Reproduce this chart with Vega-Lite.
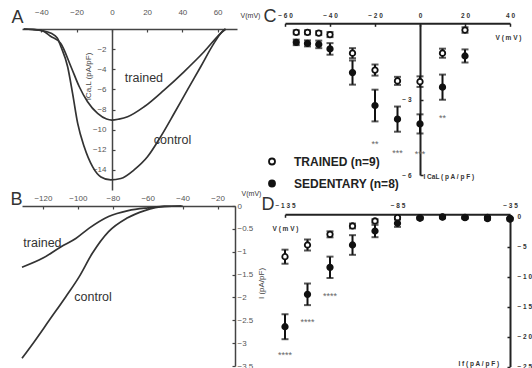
{
  "$schema": "https://vega.github.io/schema/vega-lite/v6.json",
  "width": 532,
  "height": 368,
  "autosize": {"type": "none"},
  "padding": 0,
  "background": "white",
  "datasets": {
    "curvesA": [
      {"g": "trained", "v": -50, "i": 0}, {"g": "trained", "v": -45, "i": -0.03}, {"g": "trained", "v": -40, "i": -0.15},
      {"g": "trained", "v": -38.3, "i": -0.27}, {"g": "trained", "v": -35, "i": -0.7}, {"g": "trained", "v": -29, "i": -1.43},
      {"g": "trained", "v": -23.2, "i": -3.75}, {"g": "trained", "v": -18.5, "i": -5.74}, {"g": "trained", "v": -13.8, "i": -7.23},
      {"g": "trained", "v": -8.1, "i": -8.39}, {"g": "trained", "v": -3, "i": -8.95}, {"g": "trained", "v": 0, "i": -9.05},
      {"g": "trained", "v": 4, "i": -8.95}, {"g": "trained", "v": 8.9, "i": -8.72}, {"g": "trained", "v": 18.3, "i": -7.73},
      {"g": "trained", "v": 29.6, "i": -6.07}, {"g": "trained", "v": 40.9, "i": -4.25}, {"g": "trained", "v": 52.3, "i": -2.26},
      {"g": "trained", "v": 61.7, "i": -0.43}, {"g": "trained", "v": 64.5, "i": 0},
      {"g": "control", "v": -50, "i": 0}, {"g": "control", "v": -45, "i": -0.05}, {"g": "control", "v": -40, "i": -0.15},
      {"g": "control", "v": -34.5, "i": -0.43}, {"g": "control", "v": -31, "i": -0.9}, {"g": "control", "v": -28.9, "i": -1.76},
      {"g": "control", "v": -25.1, "i": -3.75}, {"g": "control", "v": -22.3, "i": -6.4}, {"g": "control", "v": -19.4, "i": -9.38},
      {"g": "control", "v": -15.7, "i": -11.7}, {"g": "control", "v": -10.9, "i": -13.7}, {"g": "control", "v": -6.2, "i": -14.7},
      {"g": "control", "v": -0.6, "i": -15.0}, {"g": "control", "v": 5.1, "i": -14.86}, {"g": "control", "v": 12.6, "i": -14.0},
      {"g": "control", "v": 20.2, "i": -12.7}, {"g": "control", "v": 27.7, "i": -10.7}, {"g": "control", "v": 35.3, "i": -8.4},
      {"g": "control", "v": 42.8, "i": -6.07}, {"g": "control", "v": 50.4, "i": -3.75}, {"g": "control", "v": 57.9, "i": -1.43},
      {"g": "control", "v": 62.6, "i": -0.27}, {"g": "control", "v": 64.5, "i": 0}
    ],
    "labelsA": [
      {"label": "trained", "v": 18.2, "i": -4.87},
      {"label": "control", "v": 34.4, "i": -11.03}
    ],
    "letterA": [{"label": "A", "v": -53.5, "i": 1.09}],
    "curvesB": [
      {"g": "trained", "v": -132, "i": -1.34}, {"g": "trained", "v": -120, "i": -1.14}, {"g": "trained", "v": -109.6, "i": -0.89},
      {"g": "trained", "v": -101.2, "i": -0.71}, {"g": "trained", "v": -93.7, "i": -0.49}, {"g": "trained", "v": -82.4, "i": -0.23},
      {"g": "trained", "v": -71.2, "i": -0.1}, {"g": "trained", "v": -59.9, "i": -0.04}, {"g": "trained", "v": -50.5, "i": -0.01},
      {"g": "trained", "v": -40, "i": 0},
      {"g": "control", "v": -132, "i": -3.33}, {"g": "control", "v": -125.6, "i": -3.0}, {"g": "control", "v": -116.2, "i": -2.49},
      {"g": "control", "v": -106.8, "i": -1.98}, {"g": "control", "v": -99.3, "i": -1.55}, {"g": "control", "v": -91.8, "i": -1.04},
      {"g": "control", "v": -82.4, "i": -0.56}, {"g": "control", "v": -72.1, "i": -0.27}, {"g": "control", "v": -61.7, "i": -0.1},
      {"g": "control", "v": -50.5, "i": -0.01}, {"g": "control", "v": -40.9, "i": 0}
    ],
    "labelsB": [
      {"label": "trained", "v": -120.3, "i": -0.81},
      {"label": "control", "v": -91.3, "i": -1.99}
    ],
    "letterB": [{"label": "B", "v": -135.2, "i": 0.13}],
    "dataC": [
      {"group": "TRAINED (n=9)", "v": -55, "m": -0.33, "lo": -0.41, "hi": -0.25},
      {"group": "TRAINED (n=9)", "v": -50, "m": -0.33, "lo": -0.41, "hi": -0.25},
      {"group": "TRAINED (n=9)", "v": -45, "m": -0.36, "lo": -0.44, "hi": -0.28},
      {"group": "TRAINED (n=9)", "v": -40, "m": -0.42, "lo": -0.52, "hi": -0.32},
      {"group": "TRAINED (n=9)", "v": -30, "m": -1.16, "lo": -1.36, "hi": -0.96},
      {"group": "TRAINED (n=9)", "v": -20, "m": -1.83, "lo": -2.05, "hi": -1.61},
      {"group": "TRAINED (n=9)", "v": -10, "m": -2.26, "lo": -2.42, "hi": -2.1},
      {"group": "TRAINED (n=9)", "v": 0, "m": -2.29, "lo": -2.5, "hi": -2.08},
      {"group": "TRAINED (n=9)", "v": 10, "m": -1.16, "lo": -1.34, "hi": -0.98},
      {"group": "TRAINED (n=9)", "v": 20, "m": -0.24, "lo": -0.35, "hi": -0.13},
      {"group": "SEDENTARY (n=8)", "v": -55, "m": -0.73, "lo": -0.84, "hi": -0.62},
      {"group": "SEDENTARY (n=8)", "v": -50, "m": -0.77, "lo": -0.89, "hi": -0.65},
      {"group": "SEDENTARY (n=8)", "v": -45, "m": -0.81, "lo": -0.96, "hi": -0.66},
      {"group": "SEDENTARY (n=8)", "v": -40, "m": -0.99, "lo": -1.22, "hi": -0.76},
      {"group": "SEDENTARY (n=8)", "v": -30, "m": -1.93, "lo": -2.41, "hi": -1.45},
      {"group": "SEDENTARY (n=8)", "v": -20, "m": -3.24, "lo": -3.87, "hi": -2.61},
      {"group": "SEDENTARY (n=8)", "v": -10, "m": -3.78, "lo": -4.28, "hi": -3.28},
      {"group": "SEDENTARY (n=8)", "v": 0, "m": -3.97, "lo": -4.35, "hi": -3.59},
      {"group": "SEDENTARY (n=8)", "v": 10, "m": -2.51, "lo": -3.01, "hi": -2.01},
      {"group": "SEDENTARY (n=8)", "v": 20, "m": -1.27, "lo": -1.53, "hi": -1.01}
    ],
    "starsC": [
      {"v": -20, "m": -4.69, "label": "**"},
      {"v": -10, "m": -5.05, "label": "***"},
      {"v": 0, "m": -5.07, "label": "***"},
      {"v": 10, "m": -3.66, "label": "**"}
    ],
    "letterC": [{"label": "C", "v": -66.7, "m": 0.26}],
    "dataD": [
      {"group": "TRAINED (n=9)", "v": -135, "m": -6.7, "lo": -7.87, "hi": -5.53},
      {"group": "TRAINED (n=9)", "v": -125, "m": -4.75, "lo": -5.67, "hi": -3.83},
      {"group": "TRAINED (n=9)", "v": -115, "m": -2.97, "lo": -3.47, "hi": -2.47},
      {"group": "TRAINED (n=9)", "v": -105, "m": -1.58, "lo": -1.98, "hi": -1.18},
      {"group": "TRAINED (n=9)", "v": -95, "m": -0.75, "lo": -1.05, "hi": -0.45},
      {"group": "TRAINED (n=9)", "v": -85, "m": -0.2, "lo": -0.4, "hi": 0},
      {"group": "TRAINED (n=9)", "v": -75, "m": -0.2, "lo": -0.3, "hi": -0.1},
      {"group": "TRAINED (n=9)", "v": -65, "m": -0.05, "lo": -0.15, "hi": 0.05},
      {"group": "TRAINED (n=9)", "v": -55, "m": -0.15, "lo": -0.25, "hi": -0.05},
      {"group": "TRAINED (n=9)", "v": -45, "m": -0.15, "lo": -0.25, "hi": -0.05},
      {"group": "TRAINED (n=9)", "v": -35, "m": -0.3, "lo": -0.4, "hi": -0.2},
      {"group": "SEDENTARY (n=8)", "v": -135, "m": -18.37, "lo": -20.45, "hi": -16.29},
      {"group": "SEDENTARY (n=8)", "v": -125, "m": -12.97, "lo": -14.77, "hi": -11.17},
      {"group": "SEDENTARY (n=8)", "v": -115, "m": -8.47, "lo": -10.25, "hi": -6.69},
      {"group": "SEDENTARY (n=8)", "v": -105, "m": -4.75, "lo": -6.39, "hi": -3.11},
      {"group": "SEDENTARY (n=8)", "v": -95, "m": -2.42, "lo": -3.45, "hi": -1.39},
      {"group": "SEDENTARY (n=8)", "v": -85, "m": -1.13, "lo": -1.73, "hi": -0.53},
      {"group": "SEDENTARY (n=8)", "v": -75, "m": -0.3, "lo": -0.5, "hi": -0.1},
      {"group": "SEDENTARY (n=8)", "v": -65, "m": -0.1, "lo": -0.3, "hi": 0.1},
      {"group": "SEDENTARY (n=8)", "v": -55, "m": -0.2, "lo": -0.4, "hi": 0},
      {"group": "SEDENTARY (n=8)", "v": -45, "m": -0.35, "lo": -0.55, "hi": -0.15},
      {"group": "SEDENTARY (n=8)", "v": -35, "m": -0.45, "lo": -0.65, "hi": -0.25}
    ],
    "starsD": [
      {"v": -135, "m": -22.75, "label": "****"},
      {"v": -125, "m": -17.25, "label": "****"},
      {"v": -115, "m": -12.97, "label": "****"}
    ],
    "letterD": [{"label": "D", "v": -142.6, "m": 1.92}]
  },
  "resolve": {
    "scale": {"x": "independent", "y": "independent"},
    "axis": {"x": "independent", "y": "independent"}
  },
  "layer": [
    {
      "layer": [
        {
          "data": {"name": "curvesA"},
          "mark": {"type": "line", "color": "#333", "strokeWidth": 1.7, "interpolate": "monotone"},
          "encoding": {
            "x": {
              "field": "v", "type": "quantitative",
              "scale": {"domain": [-51, 71], "range": [22, 237], "nice": false, "zero": false},
              "axis": {
                "orient": "top", "offset": -29, "values": [-40, -20, 0, 20, 40, 60],
                "labelFontSize": 8, "labelColor": "#555", "labelPadding": 15.5, "labelFlush": false, "labelOverlap": false,
                "tickSize": -3, "tickColor": "#444", "tickWidth": 1.2, "domainColor": "#444", "domainWidth": 1.5,
                "title": "V(mV)", "titleX": 250, "titleY": -14, "titleAlign": "center", "titleBaseline": "middle",
                "titleFontSize": 7, "titleFontWeight": "normal", "titleColor": "#333"
              }
            },
            "y": {
              "field": "i", "type": "quantitative",
              "scale": {"domain": [-16, 0], "range": [190, 29], "nice": false, "zero": false},
              "axis": {
                "orient": "left", "offset": -112, "values": [-2, -4, -6, -8, -10, -12, -14], "format": "~g",
                "labelFontSize": 8, "labelColor": "#555", "labelPadding": 9, "labelOverlap": false, "labelFlush": false,
                "tickSize": -3, "tickColor": "#444", "tickWidth": 1.2, "domainColor": "#444", "domainWidth": 1.5,
                "title": "ICa,L (pA/pF)", "titleX": -24, "titleY": 76, "titleAngle": 270, "titleAlign": "center", "titleBaseline": "middle",
                "titleFontSize": 8, "titleFontWeight": "normal", "titleColor": "#444"
              }
            },
            "detail": {"field": "g", "type": "nominal"}
          }
        },
        {
          "data": {"name": "labelsA"},
          "mark": {"type": "text", "fontSize": 12.5, "color": "#333", "baseline": "middle", "align": "center"},
          "encoding": {
            "x": {"field": "v", "type": "quantitative"},
            "y": {"field": "i", "type": "quantitative"},
            "text": {"field": "label"}
          }
        },
        {
          "data": {"name": "letterA"},
          "mark": {"type": "text", "fontSize": 18, "color": "#333", "baseline": "middle", "align": "center"},
          "encoding": {
            "x": {"field": "v", "type": "quantitative"},
            "y": {"field": "i", "type": "quantitative"},
            "text": {"field": "label"}
          }
        }
      ]
    },
    {
      "layer": [
        {
          "data": {"name": "curvesB"},
          "mark": {"type": "line", "color": "#333", "strokeWidth": 1.7, "interpolate": "monotone"},
          "encoding": {
            "x": {
              "field": "v", "type": "quantitative",
              "scale": {"domain": [-132, -10], "range": [22, 235], "nice": false, "zero": false},
              "axis": {
                "orient": "top", "offset": -206, "values": [-120, -100, -80, -60, -40, -20],
                "labelFontSize": 8, "labelColor": "#555", "labelPadding": 6.5, "labelFlush": false, "labelOverlap": false,
                "tickSize": -3, "tickColor": "#444", "tickWidth": 1.2, "domainColor": "#444", "domainWidth": 1.5,
                "title": "V(mV)", "titleX": 251, "titleY": -13, "titleAlign": "center", "titleBaseline": "middle",
                "titleFontSize": 7, "titleFontWeight": "normal", "titleColor": "#333"
              }
            },
            "y": {
              "field": "i", "type": "quantitative",
              "scale": {"domain": [-3.5, 0], "range": [366, 206], "nice": false, "zero": false},
              "axis": {
                "orient": "right", "offset": -297, "values": [0, -0.5, -1, -1.5, -2, -2.5, -3, -3.5], "format": "~g",
                "labelFontSize": 8, "labelColor": "#555", "labelPadding": 5, "labelOverlap": false, "labelFlush": false,
                "tickSize": -3, "tickColor": "#444", "tickWidth": 1.2, "domainColor": "#444", "domainWidth": 1.5,
                "title": "I (pA/pF)", "titleX": 26, "titleY": 283, "titleAngle": 270, "titleAlign": "center", "titleBaseline": "middle",
                "titleFontSize": 8, "titleFontWeight": "normal", "titleColor": "#444"
              }
            },
            "detail": {"field": "g", "type": "nominal"}
          }
        },
        {
          "data": {"name": "labelsB"},
          "mark": {"type": "text", "fontSize": 12.5, "color": "#333", "baseline": "middle", "align": "center"},
          "encoding": {
            "x": {"field": "v", "type": "quantitative"},
            "y": {"field": "i", "type": "quantitative"},
            "text": {"field": "label"}
          }
        },
        {
          "data": {"name": "letterB"},
          "mark": {"type": "text", "fontSize": 18, "color": "#333", "baseline": "middle", "align": "center"},
          "encoding": {
            "x": {"field": "v", "type": "quantitative"},
            "y": {"field": "i", "type": "quantitative"},
            "text": {"field": "label"}
          }
        }
      ]
    },
    {
      "layer": [
        {
          "data": {"name": "dataC"},
          "mark": {"type": "errorbar", "orient": "vertical", "ticks": true, "size": 7, "thickness": 2, "color": "#111"},
          "encoding": {
            "x": {
              "field": "v", "type": "quantitative",
              "scale": {"domain": [-60, 40], "range": [285, 510], "nice": false, "zero": false},
              "axis": {
                "orient": "top", "offset": -23.3, "values": [-60, -40, -20, 0, 20, 40],
                "labelExpr": "join(split(datum.label, ''), ' ')",
                "labelFontSize": 6.5, "labelFontWeight": "bold", "labelColor": "#333", "labelPadding": 7.8, "labelFlush": false, "labelOverlap": false,
                "tickSize": -3, "tickColor": "#222", "tickWidth": 1.5, "domainColor": "#222", "domainWidth": 2,
                "title": "V ( m V )", "titleX": 508, "titleY": 14, "titleAlign": "center", "titleBaseline": "middle",
                "titleFontSize": 6.5, "titleFontWeight": "bold", "titleColor": "#333"
              }
            },
            "y": {
              "field": "lo", "type": "quantitative",
              "scale": {"domain": [-6, 0], "range": [175, 24], "nice": false, "zero": false},
              "axis": {
                "orient": "left", "offset": -420, "values": [-3, -6], "format": "~g",
                "labelExpr": "join(split(datum.label, ''), ' ')",
                "labelFontSize": 6.5, "labelFontWeight": "bold", "labelColor": "#333", "labelPadding": 12, "labelOverlap": false, "labelFlush": false,
                "tickSize": -3, "tickColor": "#222", "tickWidth": 1.5, "domainColor": "#222", "domainWidth": 2,
                "title": "I CaL ( p A / p F )", "titleX": 3, "titleY": 176, "titleAngle": 0, "titleAlign": "left", "titleBaseline": "middle",
                "titleFontSize": 6.5, "titleFontWeight": "bold", "titleColor": "#333"
              }
            },
            "y2": {"field": "hi"}
          }
        },
        {
          "data": {"name": "dataC"},
          "mark": {"type": "circle", "stroke": "#111", "strokeWidth": 1.8, "opacity": 1, "size": 30},
          "encoding": {
            "x": {"field": "v", "type": "quantitative"},
            "y": {"field": "m", "type": "quantitative"},
            "fill": {
              "field": "group", "type": "nominal",
              "scale": {"domain": ["TRAINED (n=9)", "SEDENTARY (n=8)"], "range": ["white", "#111"]},
              "legend": {
                "orient": "none", "legendX": 266, "legendY": 155.5, "title": null, "padding": 0,
                "labelFontSize": 12, "labelFontWeight": "bold", "labelColor": "#222", "labelFont": "Liberation Sans",
                "symbolType": "circle", "symbolSize": 36, "symbolStrokeColor": "#111", "symbolStrokeWidth": 1.8,
                "labelOffset": 16, "rowPadding": 8
              }
            }
          }
        },
        {
          "data": {"name": "starsC"},
          "mark": {"type": "text", "fontSize": 9, "color": "#666", "baseline": "middle", "align": "center", "dy": 2},
          "encoding": {
            "x": {"field": "v", "type": "quantitative"},
            "y": {"field": "m", "type": "quantitative"},
            "text": {"field": "label"}
          }
        },
        {
          "data": {"name": "letterC"},
          "mark": {"type": "text", "fontSize": 18, "color": "#333", "baseline": "middle", "align": "center"},
          "encoding": {
            "x": {"field": "v", "type": "quantitative"},
            "y": {"field": "m", "type": "quantitative"},
            "text": {"field": "label"}
          }
        }
      ]
    },
    {
      "layer": [
        {
          "data": {"name": "dataD"},
          "mark": {"type": "errorbar", "orient": "vertical", "ticks": true, "size": 7, "thickness": 2, "color": "#111"},
          "encoding": {
            "x": {
              "field": "v", "type": "quantitative",
              "scale": {"domain": [-135, -35], "range": [285, 510], "nice": false, "zero": false},
              "axis": {
                "orient": "top", "offset": -214.3, "values": [-135, -85, -35],
                "labelExpr": "join(split(datum.label, ''), ' ')",
                "labelFontSize": 6.5, "labelFontWeight": "bold", "labelColor": "#333", "labelPadding": 9.3, "labelFlush": false, "labelOverlap": false,
                "tickSize": -3, "tickColor": "#222", "tickWidth": 1.5, "domainColor": "#222", "domainWidth": 2,
                "title": "V ( m V )", "titleX": 285, "titleY": 14.5, "titleAlign": "center", "titleBaseline": "middle",
                "titleFontSize": 6.5, "titleFontWeight": "bold", "titleColor": "#333"
              }
            },
            "y": {
              "field": "lo", "type": "quantitative",
              "scale": {"domain": [-25, 0], "range": [366.5, 216.5], "nice": false, "zero": false},
              "axis": {
                "orient": "right", "offset": -22, "values": [0, -5, -10, -15, -20, -25], "format": "~g",
                "labelExpr": "join(split(datum.label, ''), ' ')",
                "labelFontSize": 6.5, "labelFontWeight": "bold", "labelColor": "#333", "labelPadding": 10, "labelOverlap": false, "labelFlush": false,
                "tickSize": -3, "tickColor": "#222", "tickWidth": 1.5, "domainColor": "#222", "domainWidth": 2,
                "title": "I f ( p A / p F )", "titleX": -52, "titleY": 363, "titleAngle": 0, "titleAlign": "left", "titleBaseline": "middle",
                "titleFontSize": 6.5, "titleFontWeight": "bold", "titleColor": "#333"
              }
            },
            "y2": {"field": "hi"}
          }
        },
        {
          "data": {"name": "dataD"},
          "mark": {"type": "circle", "stroke": "#111", "strokeWidth": 1.8, "opacity": 1, "size": 30},
          "encoding": {
            "x": {"field": "v", "type": "quantitative"},
            "y": {"field": "m", "type": "quantitative"},
            "fill": {
              "field": "group", "type": "nominal",
              "scale": {"domain": ["TRAINED (n=9)", "SEDENTARY (n=8)"], "range": ["white", "#111"]}
            }
          }
        },
        {
          "data": {"name": "starsD"},
          "mark": {"type": "text", "fontSize": 9, "color": "#666", "baseline": "middle", "align": "center", "dy": 2},
          "encoding": {
            "x": {"field": "v", "type": "quantitative"},
            "y": {"field": "m", "type": "quantitative"},
            "text": {"field": "label"}
          }
        },
        {
          "data": {"name": "letterD"},
          "mark": {"type": "text", "fontSize": 18, "color": "#333", "baseline": "middle", "align": "center"},
          "encoding": {
            "x": {"field": "v", "type": "quantitative"},
            "y": {"field": "m", "type": "quantitative"},
            "text": {"field": "label"}
          }
        }
      ]
    }
  ],
  "config": {
    "view": {"stroke": null},
    "font": "Liberation Sans",
    "axis": {"grid": false, "labelFont": "Liberation Sans", "titleFont": "Liberation Sans"},
    "legend": {"labelFont": "Liberation Sans"},
    "text": {"font": "Liberation Sans"}
  }
}
